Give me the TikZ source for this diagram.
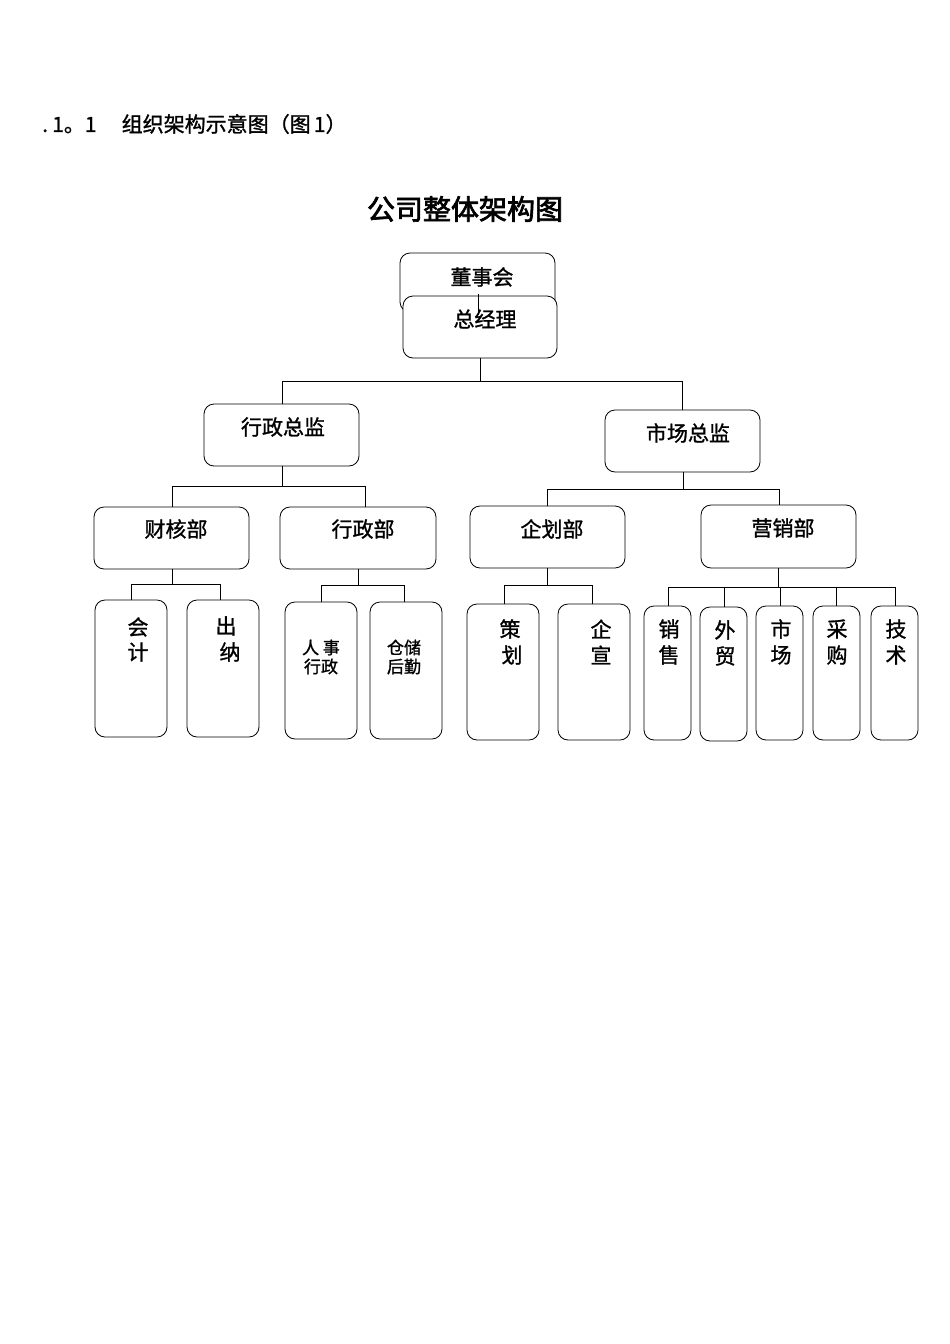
\documentclass[tikz,border=0pt]{standalone}
\usepackage{fontspec}
\setmainfont[FakeBold=1.2]{Noto Sans CJK SC}
\newfontfamily\heavy[FakeBold=2.5]{Noto Sans CJK SC}
\begin{document}
\begin{tikzpicture}[x=1pt,y=-1pt,
  bx/.style={draw,line width=0.8pt,rounded corners=10pt,fill=white},
  ln/.style={line width=0.8pt},
  tx/.style={font=\fontsize{21}{21}\selectfont,inner sep=0pt},
  sm/.style={font=\fontsize{17}{19}\selectfont,inner sep=0pt,align=center}]
\useasboundingbox (0,0) rectangle (950,1344);
\node[anchor=west,inner sep=0pt,font=\fontsize{21}{21}\selectfont] (hd) at (42,124) {.\hspace{0.2em}1。1\hspace{1.2em}组织架构示意图（图\hspace{0.15em}1）};
\node[font=\heavy\fontsize{28}{28}\selectfont,inner sep=0pt] (ttl) at (465,209) {公司整体架构图};
% top boxes
\draw[bx] (400,253) rectangle (555,312);
\node[tx] (ds) at (482,277) {董事会};
\draw[bx] (403,296) rectangle (557,358);
\draw[ln] (478.5,294) -- (478.5,315);
\node[tx] (zj) at (485,319) {总经理};
% second level
\draw[bx] (204,404) rectangle (359,466); \node[tx] (xz) at (283,427) {行政总监};
\draw[bx] (605,410) rectangle (760,472); \node[tx] (sc) at (688,433) {市场总监};
\draw[bx] (94,507) rectangle (249,569); \node[tx] (ch) at (176,529) {财核部};
\draw[bx] (280,507) rectangle (436,569); \node[tx] (xzb) at (363,529) {行政部};
\draw[bx] (470,506) rectangle (625,568); \node[tx] (qh) at (552,529) {企划部};
\draw[bx] (701,505) rectangle (856,568); \node[tx] (yx) at (783,528) {营销部};
% leaves
\draw[bx] (95,600) rectangle (167,737); \node[tx] (kj1) at (138,627) {会}; \node[tx] (kj2) at (138,652) {计};
\draw[bx] (187,600) rectangle (259,737); \node[tx] (cn1) at (226,626) {出}; \node[tx] (cn2) at (230,652) {纳};
\draw[bx] (285,602) rectangle (357,739); \node[sm] (rs) at (321,657) {人 事\\行政};
\draw[bx] (370,602) rectangle (442,739); \node[sm] (cc) at (404,657) {仓储\\后勤};
\draw[bx] (467,604) rectangle (539,740); \node[tx] (ce1) at (510,629) {策}; \node[tx] (ce2) at (512,655) {划};
\draw[bx] (558,604) rectangle (630,740); \node[tx] (qx1) at (601,629) {企}; \node[tx] (qx2) at (601,655) {宣};
\draw[bx] (644,606) rectangle (691,740); \node[tx] (xs1) at (669,629) {销}; \node[tx] (xs2) at (669,655) {售};
\draw[bx] (700,607) rectangle (747,741); \node[tx] (wm1) at (725,630) {外}; \node[tx] (wm2) at (725,656) {贸};
\draw[bx] (756,606) rectangle (803,740); \node[tx] (sc1) at (781,629) {市}; \node[tx] (sc2) at (781,655) {场};
\draw[bx] (813,606) rectangle (860,740); \node[tx] (cg1) at (837,629) {采}; \node[tx] (cg2) at (837,655) {购};
\draw[bx] (871,606) rectangle (918,740); \node[tx] (js1) at (896,629) {技}; \node[tx] (js2) at (896,655) {术};
% connectors
\draw[ln] (480,358) -- (480,381) (282,404) -- (282,381) -- (682,381) -- (682,410);
\draw[ln] (282,466) -- (282,486) (172,507) -- (172,486) -- (365,486) -- (365,507);
\draw[ln] (683,472) -- (683,489) (547,506) -- (547,489) -- (779,489) -- (779,505);
\draw[ln] (172,569) -- (172,584) (131,600) -- (131,584) -- (220,584) -- (220,600);
\draw[ln] (358,569) -- (358,585) (321,602) -- (321,585) -- (404,585) -- (404,602);
\draw[ln] (547,568) -- (547,585) (504,604) -- (504,585) -- (592,585) -- (592,604);
\draw[ln] (778,568) -- (778,587) (668,606) -- (668,587) -- (895,587) -- (895,606);
\draw[ln] (724,587) -- (724,607) (780,587) -- (780,606) (836,587) -- (836,606);
\end{tikzpicture}
\end{document}
